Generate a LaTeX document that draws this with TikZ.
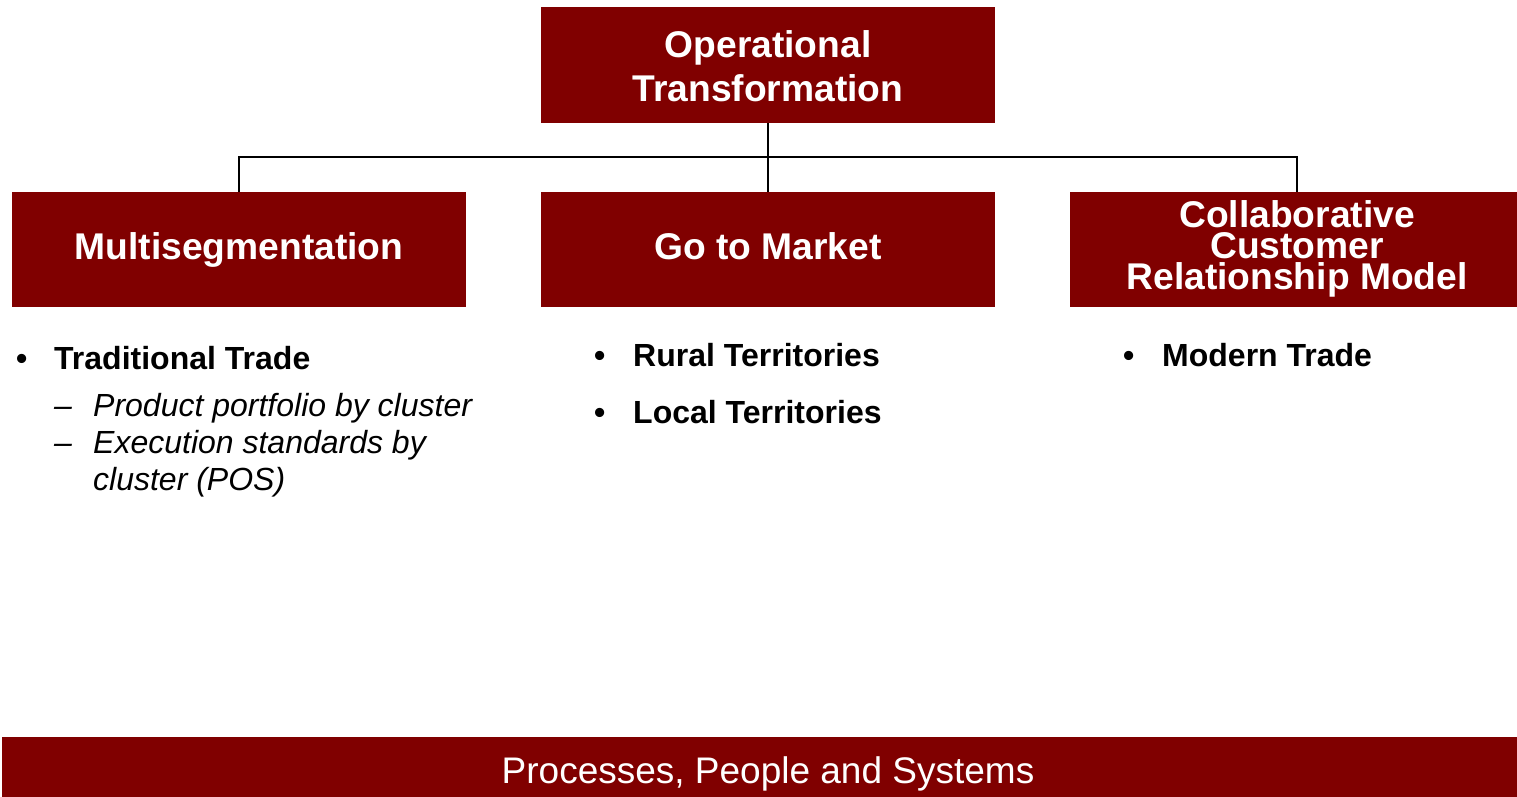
\documentclass[tikz,border=0pt]{standalone}
\usepackage{fontspec}
\setmainfont{Liberation Sans}
\definecolor{maroon}{HTML}{800000}
\begin{document}
\begin{tikzpicture}[x=1pt,y=-1pt,
  box/.style={fill=maroon,draw=none,inner sep=0pt},
  boxtext/.style={text=white,font=\fontsize{37.2}{44}\selectfont\bfseries,align=center},
  conn/.style={draw=black,line width=2.2pt},
  bul/.style={anchor=base west,inner sep=0pt,font=\fontsize{32}{36}\selectfont\bfseries},
  sub/.style={anchor=base west,inner sep=0pt,font=\fontsize{32}{36}\selectfont\itshape}]
\useasboundingbox (0,0) rectangle (1517,797);
% boxes
\path[box] (541,7) rectangle (995,123);
\node[boxtext] (top) at (768,66) {Operational\\Transformation};
\path[box] (12,192) rectangle (466,307);
\node[boxtext] (left) at (239,250) {Multisegmentation};
\path[box] (541,192) rectangle (995,307);
\node[boxtext] (mid) at (768,246) {Go to Market};
\path[box] (1070,192) rectangle (1517,307);
\node[boxtext,font=\fontsize{37.2}{31}\selectfont\bfseries] (right) at (1297,249) {Collaborative\\Customer\\Relationship Model};
% anchors for connectors
\coordinate (topb) at (768,123);
\coordinate (midt) at (768,192);
\coordinate (leftt) at (239,192);
\coordinate (rightt) at (1297,192);
\coordinate (j) at (768,157);
\draw[conn] (topb) -- (midt);
\draw[conn] (leftt) -- (leftt |- j) -- (rightt |- j) -- (rightt);
% bullets
\node[bul] (b1) at (16,369) {•};
\node[bul] (t1) at (54,369) {Traditional Trade};
\node[sub] (d1) at (54,416) {–};
\node[sub] (s1) at (93,416) {Product portfolio by cluster};
\node[sub] (d2) at (54,453) {–};
\node[sub] (s2) at (93,453) {Execution standards by};
\node[sub] (s3) at (93,490) {cluster (POS)};
\node[bul] (b2) at (594,366) {•};
\node[bul] (t2) at (633,366) {Rural Territories};
\node[bul] (b3) at (594,423) {•};
\node[bul] (t3) at (633,423) {Local Territories};
\node[bul] (b4) at (1123,366) {•};
\node[bul] (t4) at (1162,366) {Modern Trade};
% bottom bar
\path[box] (2,737) rectangle (1517,797);
\node[text=white,font=\fontsize{37}{40}\selectfont,inner sep=0pt,anchor=base] (bar) at (768,783) {Processes, People and Systems};
\end{tikzpicture}
\end{document}
